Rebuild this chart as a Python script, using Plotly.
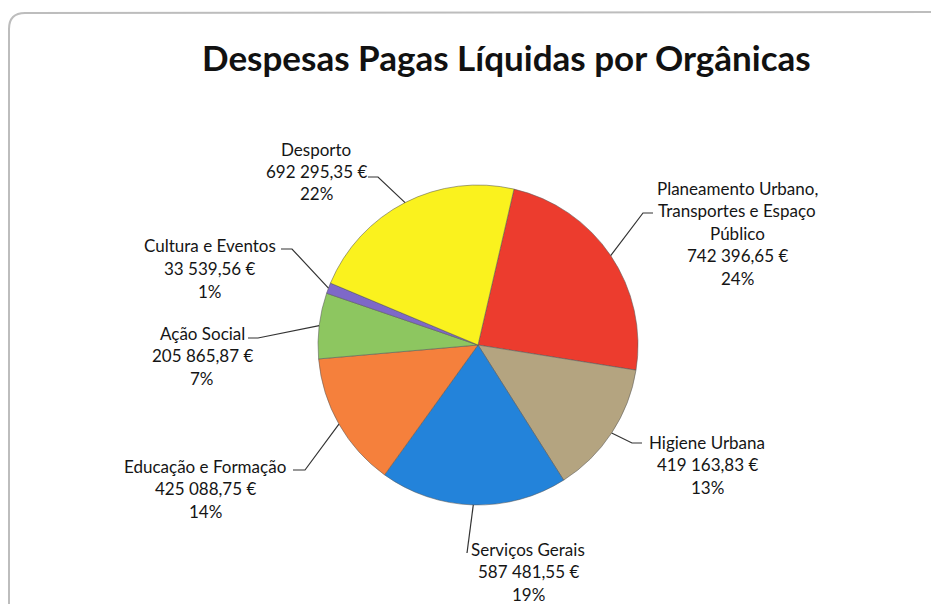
import math
import plotly.graph_objects as go

# ---------------- data ----------------
categories = [
    "Planeamento Urbano,<br>Transportes e Espaço<br>Público",
    "Higiene Urbana",
    "Serviços Gerais",
    "Educação e Formação",
    "Ação Social",
    "Cultura e Eventos",
    "Desporto",
]
label_lines = [
    ["Planeamento Urbano,", "Transportes e Espaço", "Público"],
    ["Higiene Urbana"],
    ["Serviços Gerais"],
    ["Educação e Formação"],
    ["Ação Social"],
    ["Cultura e Eventos"],
    ["Desporto"],
]
values = [742396.65, 419163.83, 587481.55, 425088.75, 205865.87, 33539.56, 692295.35]
value_text = ["742 396,65 €", "419 163,83 €", "587 481,55 €", "425 088,75 €",
              "205 865,87 €", "33 539,56 €", "692 295,35 €"]
title_text = "Despesas Pagas Líquidas por Orgânicas"

# ---------------- style / layout ----------------
W, H = 931, 604
colors = ["#EC3C2E", "#B4A480", "#2383DA", "#F5803C", "#8DC660", "#7E68C8", "#FAF21E"]
CX, CY, R = 478, 345, 160
ROTATION = 13
FONT = "Lato, 'Noto Sans', sans-serif"
LINE_GAP = 22.5

# label anchor (center x, first line center y), text-side end of leader, elbow
label_pos = [(737, 188), (707, 442), (528, 549), (205, 466), (202, 333), (210, 246), (316, 149)]
leader_end = [(653, 213), (642, 443), (467, 553), (293, 470), (248, 338), (281, 249), (368, 177)]
leader_elbow = [(643, 213), (632, 443), None, (305, 470), (258, 338), (292, 249), (378, 177)]


def px(x):
    return x / W


def py(y):
    return 1 - y / H


total = sum(values)
pct_text = [f"{round(v / total * 100)}%" for v in values]

fig = go.Figure(go.Pie(
    labels=categories,
    values=values,
    sort=False,
    direction="clockwise",
    rotation=ROTATION,
    textinfo="none",
    hoverinfo="label+value+percent",
    marker=dict(colors=colors, line=dict(color="rgba(90,90,90,0.55)", width=1)),
    domain=dict(x=[px(CX - R), px(CX + R)], y=[py(CY + R), py(CY - R)]),
    showlegend=False,
))

annotations = []
shapes = []

# frame (rounded corner at top-left, continues beyond right/bottom edges)
shapes.append(dict(
    type="path", xref="paper", yref="paper",
    path=f"M {px(9)},{py(H + 5)} L {px(9)},{py(29)} Q {px(9)},{py(13)} {px(25)},{py(13)} L {px(W + 5)},{py(12)}",
    line=dict(color="#BDBDBD", width=2),
))

cum = 0.0
for i, v in enumerate(values):
    mid = ROTATION + (cum + v / 2) / total * 360
    cum += v
    a = math.radians(mid)
    hx, hy = CX + R * math.sin(a), CY - R * math.cos(a)
    pts = [leader_end[i]]
    if leader_elbow[i] is not None:
        pts.append(leader_elbow[i])
    pts.append((hx, hy))
    path = "M " + " L ".join(f"{px(x)},{py(y)}" for x, y in pts)
    shapes.append(dict(type="path", xref="paper", yref="paper", path=path,
                       line=dict(color="#333333", width=1.2)))

    lines = label_lines[i] + [value_text[i], pct_text[i]]
    lx, ly = label_pos[i]
    for k, t in enumerate(lines):
        annotations.append(dict(
            x=px(lx), y=py(ly + k * LINE_GAP), xref="paper", yref="paper",
            text=t, showarrow=False, xanchor="center", yanchor="middle",
            font=dict(family=FONT, size=17, color="#151515"),
        ))

annotations.append(dict(
    x=px(506), y=py(57), xref="paper", yref="paper", text=f"<b>{title_text}</b>",
    showarrow=False, xanchor="center", yanchor="middle",
    font=dict(family=FONT, size=35, color="#111111"),
))

fig.update_layout(
    width=W, height=H,
    margin=dict(l=0, r=0, t=0, b=0),
    paper_bgcolor="white", plot_bgcolor="white",
    annotations=annotations, shapes=shapes,
)

fig.write_html("out.html", config={"displayModeBar": False},
               post_script="document.body.style.margin='0';document.body.style.overflow='hidden';")
